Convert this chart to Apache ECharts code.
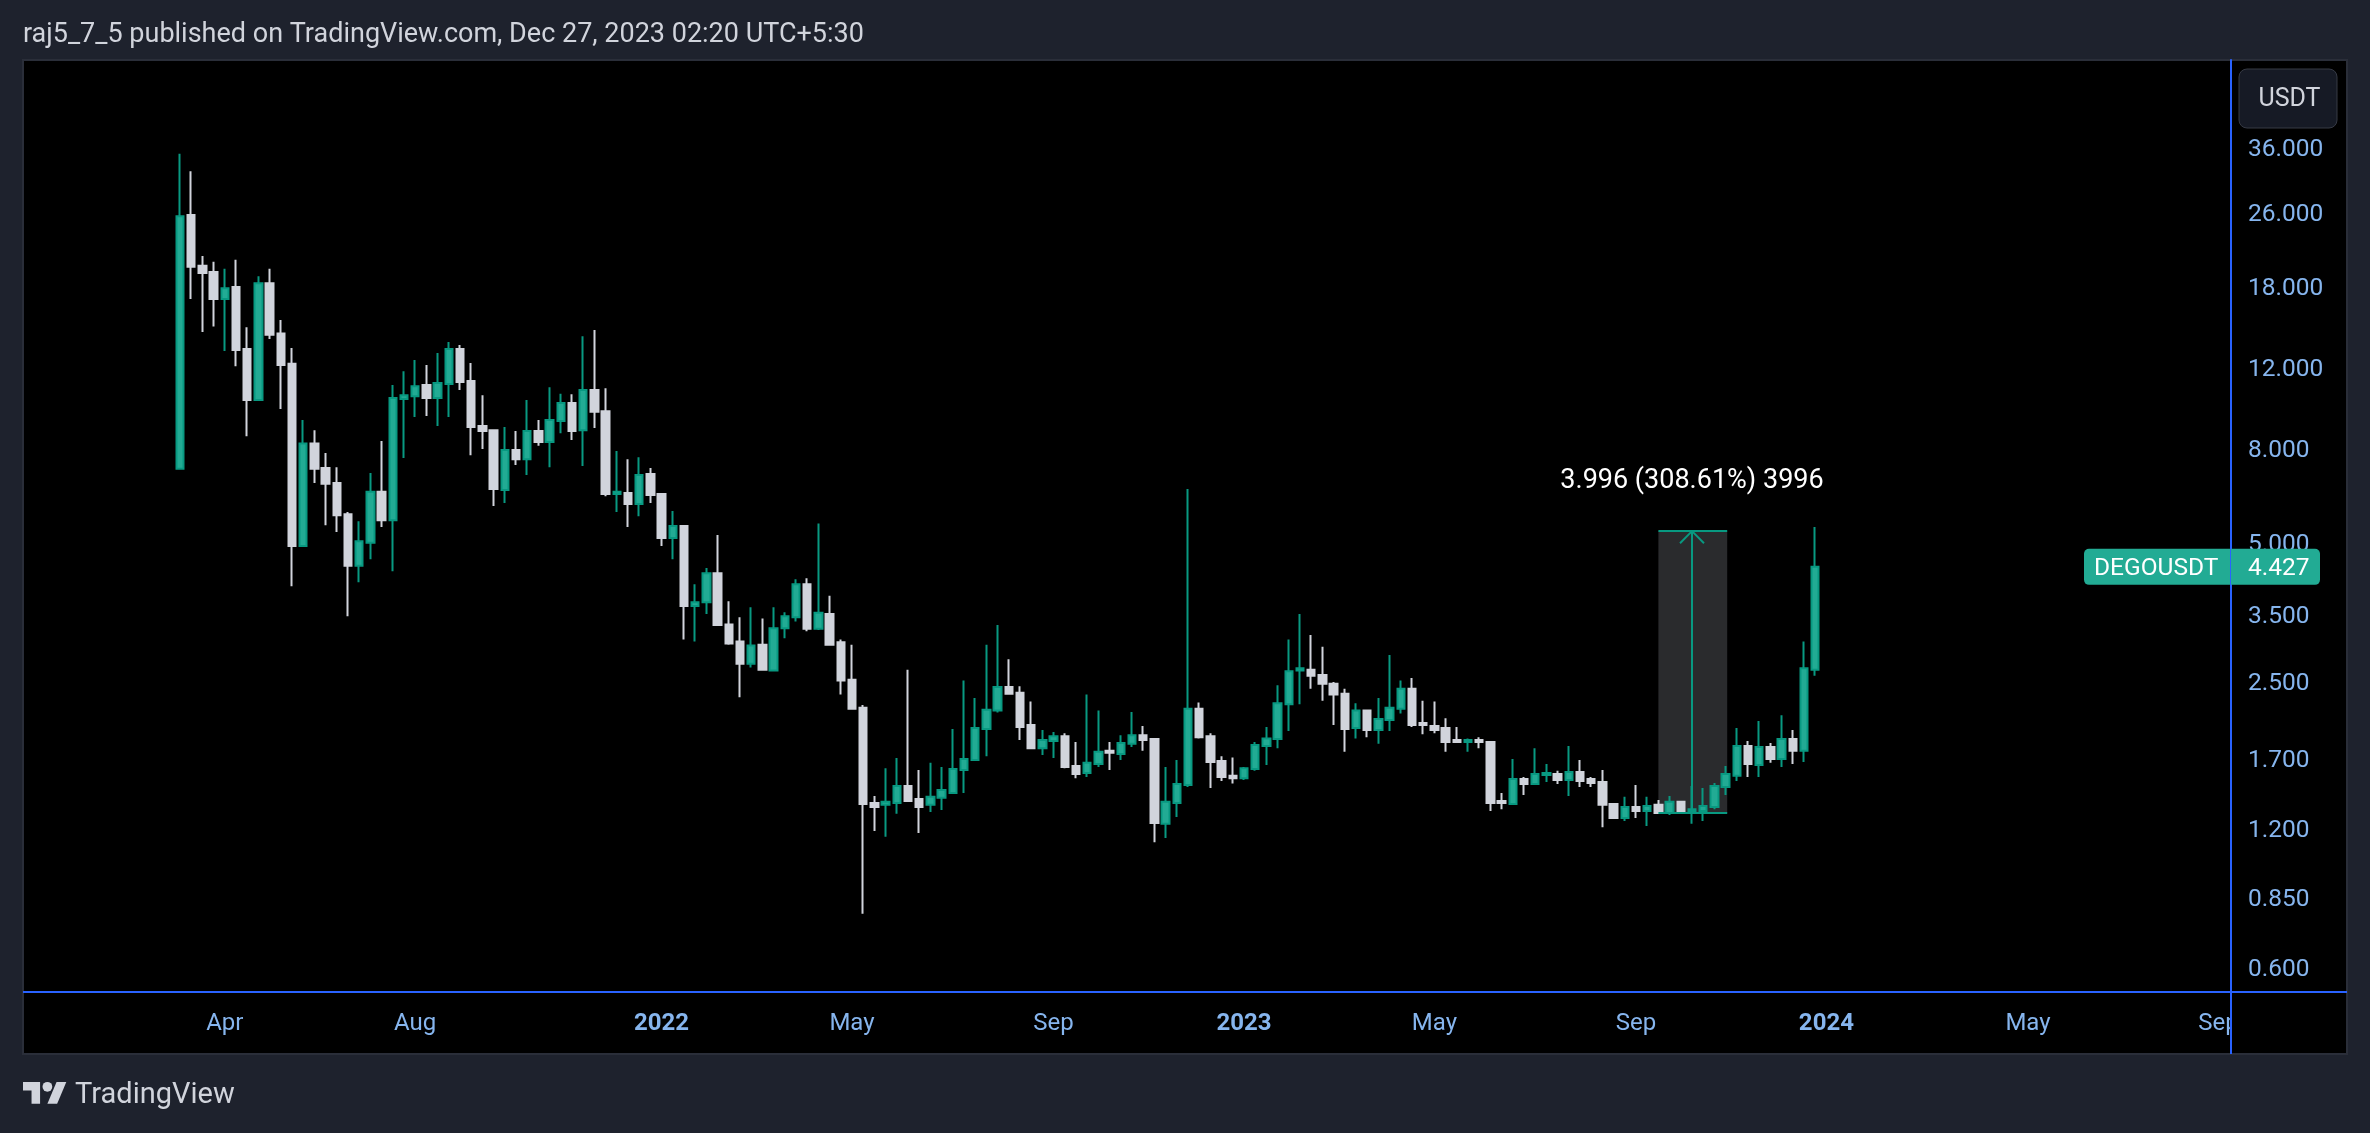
<!DOCTYPE html>
<html><head><meta charset="utf-8">
<style>html,body{margin:0;padding:0;background:#1e222d}#c{width:2370px;height:1133px}</style>
<script src="https://cdn.jsdelivr.net/npm/echarts@6/dist/echarts.min.js"></script>
</head><body><div id="c"></div>
<script>
const firstWeek = '2021-03-08';
const opens = [
7.22,25.65,19.9,19.3,16.85,17.9,13.13,10.18,18.25,14.2,
12.2,4.91,8.2,7.25,6.73,5.76,4.45,4.99,6.44,5.59,
10.23,10.38,10.97,10.28,11.03,13.13,11.2,8.94,8.76,6.5,
7.93,7.58,8.72,8.26,9.17,10.03,8.76,10.7,9.63,6.37,
6.4,6.06,7.04,6.37,5.11,5.43,3.64,3.71,4.29,3.32,
3.05,2.73,3.0,2.64,3.26,3.44,4.06,3.25,3.5,3.04,
2.52,2.19,1.362,1.349,1.362,1.483,1.39,1.349,1.397,1.432,
1.606,1.688,1.97,2.16,2.43,2.36,2.01,1.79,1.855,1.9,
1.638,1.582,1.655,1.767,1.74,1.83,1.91,1.875,1.227,1.362,
1.49,2.18,1.9,1.68,1.56,1.54,1.614,1.81,1.875,2.23,
2.64,2.65,2.58,2.47,2.35,1.98,2.16,1.96,2.06,2.18,
2.41,2.03,2.0,1.98,1.865,1.847,1.865,1.847,1.376,1.355,
1.535,1.498,1.566,1.574,1.528,1.59,1.535,1.513,1.355,1.263,
1.335,1.308,1.349,1.295,1.37,1.308,1.308,1.335,1.475,1.56,
1.81,1.647,1.8,1.696,1.875,1.767,2.65];
const closes = [
25.5,19.8,19.2,16.85,17.8,13.07,10.18,18.25,14.1,12.12,
4.91,8.2,7.22,6.7,5.73,4.45,5.03,6.44,5.59,10.28,
10.43,10.9,10.28,11.08,13.13,11.14,8.9,8.72,6.53,7.93,
7.58,8.72,8.26,9.21,10.03,8.72,10.7,9.6,6.37,6.44,
6.06,7.0,6.34,5.11,5.43,3.64,3.71,4.29,3.31,3.02,
2.73,2.99,2.65,3.26,3.46,4.06,3.25,3.52,3.0,2.51,
2.18,1.355,1.335,1.37,1.483,1.376,1.335,1.404,1.453,1.614,
1.696,1.98,2.17,2.43,2.35,1.99,1.79,1.865,1.9,1.63,
1.574,1.664,1.758,1.75,1.837,1.91,1.865,1.233,1.37,1.498,
2.18,1.89,1.67,1.55,1.54,1.62,1.82,1.88,2.24,2.63,
2.67,2.57,2.47,2.34,1.97,2.16,1.96,2.07,2.19,2.41,
2.01,2.01,1.96,1.847,1.847,1.865,1.847,1.362,1.362,1.535,
1.498,1.574,1.582,1.528,1.59,1.52,1.505,1.349,1.263,1.335,
1.308,1.342,1.295,1.37,1.308,1.32,1.342,1.483,1.574,1.81,
1.655,1.8,1.696,1.875,1.767,2.67,4.427];
const lows = [
7.22,16.85,14.3,14.7,13.0,12.05,8.5,10.13,13.8,9.73,
4.02,4.91,6.73,5.45,5.27,3.46,4.1,4.6,5.4,4.33,
7.62,9.35,9.4,8.94,9.35,10.7,7.73,7.97,6.0,6.09,
7.36,7.0,8.1,7.28,8.63,8.34,7.32,8.85,6.3,5.82,
5.4,5.7,6.09,4.91,4.6,3.08,3.05,3.5,3.31,3.0,
2.31,2.68,2.64,2.64,3.1,3.37,3.21,3.23,2.99,2.34,
2.17,0.783,1.184,1.15,1.29,1.37,1.172,1.302,1.315,1.425,
1.432,1.68,1.72,2.14,2.34,1.865,1.78,1.73,1.705,1.62,
1.54,1.55,1.63,1.606,1.688,1.8,1.767,1.12,1.143,1.27,
1.475,1.88,1.468,1.52,1.5,1.528,1.6,1.647,1.79,1.95,
2.23,2.41,2.27,2.01,1.758,1.88,1.89,1.83,1.95,2.13,
1.99,1.92,1.93,1.758,1.837,1.758,1.79,1.308,1.32,1.349,
1.418,1.49,1.513,1.498,1.41,1.475,1.475,1.207,1.263,1.245,
1.263,1.214,1.295,1.283,1.29,1.227,1.245,1.32,1.418,1.52,
1.55,1.55,1.664,1.63,1.655,1.67,2.57];
const highs = [
34.8,31.9,20.9,20.3,19.6,20.5,14.65,18.9,19.6,15.18,
13.2,9.21,8.76,7.82,7.28,5.82,5.56,7.07,8.3,10.97,
11.76,12.43,12.12,12.88,13.6,13.4,12.25,10.43,8.8,8.9,
8.72,10.18,9.21,10.85,10.5,10.48,14.0,14.44,10.8,7.89,
7.58,7.65,7.25,6.4,5.85,5.45,4.06,4.4,5.19,3.73,
3.44,3.62,3.42,3.62,3.53,4.16,4.18,5.5,3.83,3.08,
3.0,2.22,1.41,1.62,1.705,2.65,1.606,1.664,1.63,1.97,
2.51,2.3,3.0,3.31,2.79,2.44,2.26,1.96,1.94,1.93,
1.847,2.34,2.16,1.847,1.91,2.145,2.0,1.88,1.63,1.688,
6.53,2.25,1.93,1.72,1.71,1.63,1.847,1.99,2.45,3.08,
3.5,3.15,2.97,2.49,2.41,2.24,2.16,2.3,2.85,2.51,
2.54,2.27,2.26,2.08,1.99,1.88,1.89,1.847,1.432,1.696,
1.55,1.79,1.655,1.6,1.81,1.688,1.55,1.606,1.362,1.404,
1.49,1.404,1.383,1.41,1.376,1.483,1.468,1.505,1.638,1.98,
1.855,2.05,1.837,2.11,1.96,3.05,5.4];
const priceTicks = [36,26,18,12,8,5,3.5,2.5,1.7,1.2,0.85,0.6];
const timeTickDates = ['2021-04-05','2021-08-02','2022-01-03','2022-05-02','2022-09-05','2023-01-02','2023-05-01','2023-09-04','2024-01-01','2024-05-06','2024-09-02'];
const timeTickNames = ['Apr','Aug','2022','May','Sep','2023','May','Sep','2024','May','Sep'];
const rangeFrom = '2023-09-18', rangeMid = '2023-10-09', rangeTo = '2023-10-31';
const rangeLow = 1.295, rangeHigh = 5.291, arrowWingPrice = 4.98, rangeLabelPrice = 6.79;
const rangeLabel = '3.996 (308.61%) 3996';
const symbolName = 'DEGOUSDT', currency = 'USDT';
const headerText = 'raj5_7_5 published on TradingView.com, Dec 27, 2023 02:20 UTC+5:30';

const DAY = 86400000;
const ts = s => Date.parse(s + 'T00:00:00Z');
const start = ts(firstWeek);
const weeks = opens.map((_, i) => start + i * 7 * DAY);
const candles = opens.map((o, i) => [weeks[i], o, closes[i], lows[i], highs[i]]);
const tickMap = {}; timeTickDates.forEach((d, i) => tickMap[ts(d)] = timeTickNames[i]);

const BLUE = '#2962ff', AX = '#86b5ee', TXT = '#d1d4dc', TEAL = '#089981', FF = 'Roboto';
const chart = echarts.init(document.getElementById('c'), null, {renderer: 'canvas'});
const paneL = 23, paneR = 2347, paneT = 60, paneB = 1054, vx = 2231, hy = 992;
chart.setOption({
  animation: false, backgroundColor: '#1e222d',
  textStyle: {fontFamily: FF},
  grid: {left: 24, right: 2370 - vx, top: paneT, bottom: 1133 - hy, containLabel: false},
  xAxis: {
    type: 'value', scale: true, min: start - 97.5 * DAY, max: start + 1281.875 * DAY,
    axisLine: {show: true, onZero: false, lineStyle: {color: BLUE, width: 2}},
    axisTick: {show: false}, splitLine: {show: false},
    axisLabel: {
      customValues: timeTickDates.map(ts), hideOverlap: false, margin: 20,
      color: AX, fontSize: 24, fontFamily: FF,
      formatter: v => { const t = tickMap[v] || ''; return /^\d/.test(t) ? '{b|' + t + '}' : t; },
      rich: {b: {fontWeight: 'bold', color: AX, fontSize: 24, fontFamily: FF}}
    }
  },
  yAxis: {
    type: 'log', position: 'right', min: 0.53, max: 55.6, logBase: 10,
    axisLine: {show: true, onZero: false, lineStyle: {color: BLUE, width: 2}},
    axisTick: {show: false}, splitLine: {show: false}, minorTick: {show: false}, minorSplitLine: {show: false},
    axisLabel: {customValues: priceTicks, margin: 17, verticalAlign: 'top', lineHeight: 5, color: AX, fontSize: 24.5, fontFamily: FF, formatter: v => (+v).toFixed(3)}
  },
  series: [{
    type: 'candlestick', name: symbolName, data: candles, barWidth: 8,
    encode: {x: 0, y: [1, 2, 3, 4]}, clip: true,
    itemStyle: {color: '#22ab94', color0: '#d1d4dc', borderColor: TEAL, borderColor0: '#d1d4dc', borderWidth: 2},
    markArea: {silent: true, z: 1, itemStyle: {color: '#2a2b2d'}, data: [[{coord: [ts(rangeFrom), rangeHigh]}, {coord: [ts(rangeTo), rangeLow]}]]},
    markLine: {
      silent: true, symbol: 'none', animation: false, z: 5,
      lineStyle: {color: TEAL, width: 2, type: 'solid'}, label: {show: false},
      data: [
        [{coord: [ts(rangeFrom), rangeHigh]}, {coord: [ts(rangeTo), rangeHigh]}],
        [{coord: [ts(rangeFrom), rangeLow]}, {coord: [ts(rangeTo), rangeLow]}],
        [{coord: [ts(rangeMid), rangeLow]}, {coord: [ts(rangeMid), rangeHigh]}],
        [{coord: [ts(rangeMid), rangeHigh]}, {coord: [ts(rangeMid) - 7.5 * DAY, arrowWingPrice]}],
        [{coord: [ts(rangeMid), rangeHigh]}, {coord: [ts(rangeMid) + 7.5 * DAY, arrowWingPrice]}]
      ]
    },
    markPoint: {
      silent: true, symbol: 'circle', symbolSize: 1, z: 6, itemStyle: {color: 'transparent'},
      label: {show: true, position: 'inside', color: '#fff', fontSize: 27, fontFamily: FF, formatter: rangeLabel},
      data: [{coord: [ts(rangeMid), rangeLabelPrice]}]
    }
  }],
  graphic: {elements: [
    {type: 'rect', z: -10, silent: true, shape: {x: paneL, y: paneT, width: paneR - paneL, height: paneB - paneT}, style: {fill: '#000', stroke: '#2a2e39', lineWidth: 2}},
    {type: 'text', silent: true, style: {text: headerText, x: 23, y: 35, fill: TXT, font: '400 27px Roboto', textVerticalAlign: 'middle'}},
    {type: 'rect', z: 50, silent: true, shape: {x: vx - 1, y: 1000, width: 16, height: 52}, style: {fill: '#000'}},
    {type: 'line', z: 60, silent: true, shape: {x1: vx, y1: paneT, x2: vx, y2: paneB}, style: {stroke: BLUE, lineWidth: 2}},
    {type: 'line', z: 60, silent: true, shape: {x1: paneL, y1: hy, x2: paneR, y2: hy}, style: {stroke: BLUE, lineWidth: 2}},
    {type: 'rect', z: 61, silent: true, shape: {x: 2239, y: 69, width: 98, height: 59, r: 8}, style: {fill: '#161a25', stroke: '#363a45', lineWidth: 1}},
    {type: 'text', z: 62, silent: true, style: {text: currency, x: 2289.5, y: 100, fill: TXT, font: '400 25px Roboto', textAlign: 'center', textVerticalAlign: 'middle'}},
    {type: 'group', silent: true, x: 23, y: 1077, scaleX: 1.22, scaleY: 1.22, children: [
      {type: 'polygon', shape: {points: [[14,22],[7,22],[7,11],[0,11],[0,4],[14,4]]}, style: {fill: TXT}},
      {type: 'polygon', shape: {points: [[28,22],[20,22],[27.5,4],[35.5,4]]}, style: {fill: TXT}},
      {type: 'circle', shape: {cx: 20, cy: 8, r: 4}, style: {fill: TXT}}
    ]},
    {type: 'text', silent: true, style: {text: 'TradingView', x: 75, y: 1096, fill: TXT, font: '400 29px Roboto', textVerticalAlign: 'middle'}}
  ]}
});
const last = closes[closes.length - 1];
const ty = chart.convertToPixel({yAxisIndex: 0}, last);
chart.setOption({graphic: {elements: [
  {type: 'rect', id: 'tagL', z: 63, silent: true, shape: {x: 2084, y: ty - 18, width: 146, height: 36, r: [5, 0, 0, 5]}, style: {fill: '#22ab94'}},
  {type: 'rect', id: 'tagR', z: 63, silent: true, shape: {x: 2231, y: ty - 18, width: 89, height: 36, r: [0, 5, 5, 0]}, style: {fill: '#22ab94'}},
  {type: 'text', id: 'tagT', z: 64, silent: true, style: {text: symbolName, x: 2094, y: ty + 2, fill: '#fff', font: '400 24.5px Roboto', textVerticalAlign: 'middle'}},
  {type: 'text', id: 'tagV', z: 64, silent: true, style: {text: last.toFixed(3), x: 2248, y: ty + 2, fill: '#fff', font: '400 24.5px Roboto', textVerticalAlign: 'middle'}}
]}});
</script></body></html>
